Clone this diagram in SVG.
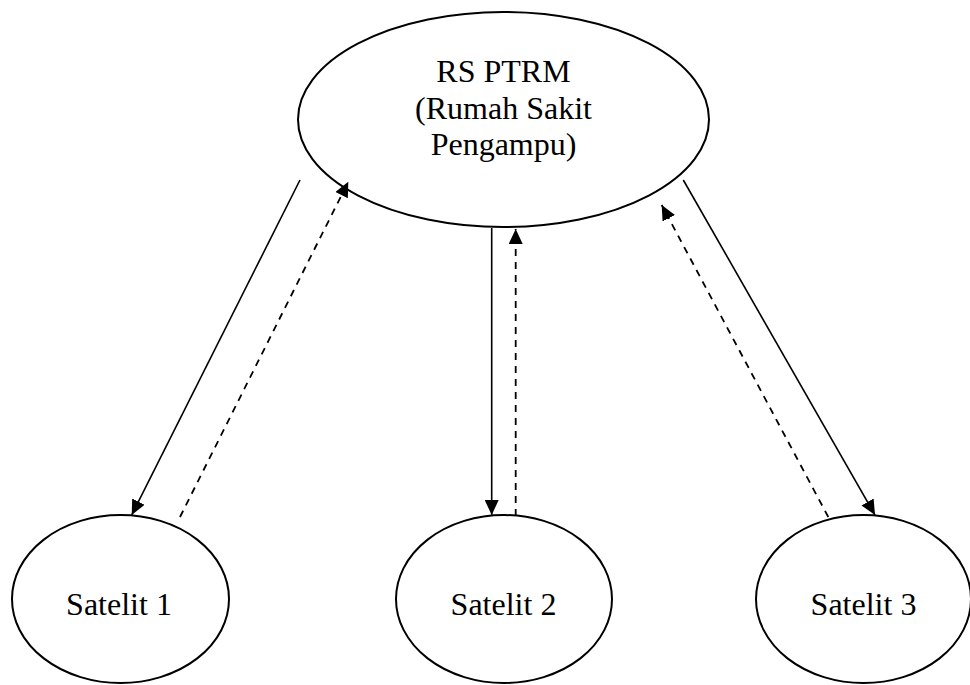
<svg xmlns="http://www.w3.org/2000/svg" width="970" height="685" viewBox="0 0 970 685">
<style>
.node{fill:#fff;stroke:#000;stroke-width:2}
.lbl{font-family:"Liberation Serif","Times New Roman",serif;font-size:32px;fill:#000;text-anchor:middle}
.solid{stroke:#000;stroke-width:1.6;fill:none;marker-end:url(#ah)}
.dash{stroke:#000;stroke-width:1.8;fill:none;stroke-dasharray:7 6;marker-end:url(#ah)}
</style>
<defs>
<marker id="ah" markerUnits="userSpaceOnUse" markerWidth="16" markerHeight="14" refX="15" refY="7" orient="auto">
<path d="M0,0 L15,7 L0,14 z" fill="#000"/>
</marker>
</defs>
<rect width="970" height="685" fill="#fff"/>
<g id="rs-ptrm">
<ellipse class="node" cx="503.5" cy="119.5" rx="205.5" ry="107.5"/>
<text class="lbl" x="503.5" y="82">RS PTRM</text>
<text class="lbl" x="503.5" y="118.5">(Rumah Sakit</text>
<text class="lbl" x="503.5" y="155">Pengampu)</text>
</g>
<g id="satelit-1">
<ellipse class="node" cx="120.5" cy="599" rx="108.5" ry="84"/>
<text class="lbl" x="119" y="615">Satelit 1</text>
</g>
<g id="satelit-2">
<ellipse class="node" cx="504" cy="599" rx="108" ry="84"/>
<text class="lbl" x="503.5" y="615">Satelit 2</text>
</g>
<g id="satelit-3">
<ellipse class="node" cx="863.5" cy="599" rx="107.5" ry="84"/>
<text class="lbl" x="863.5" y="615">Satelit 3</text>
</g>
<g id="connectors">
<line class="solid" x1="300" y1="180" x2="131.7" y2="515"/>
<line class="dash" x1="180" y1="517" x2="348.3" y2="181.7"/>
<line class="solid" x1="491.7" y1="228" x2="491.7" y2="515"/>
<line class="dash" x1="515.7" y1="516" x2="515.7" y2="229"/>
<line class="solid" x1="683.3" y1="180" x2="875" y2="515"/>
<line class="dash" x1="828.3" y1="517" x2="661.7" y2="205"/>
</g>
</svg>
